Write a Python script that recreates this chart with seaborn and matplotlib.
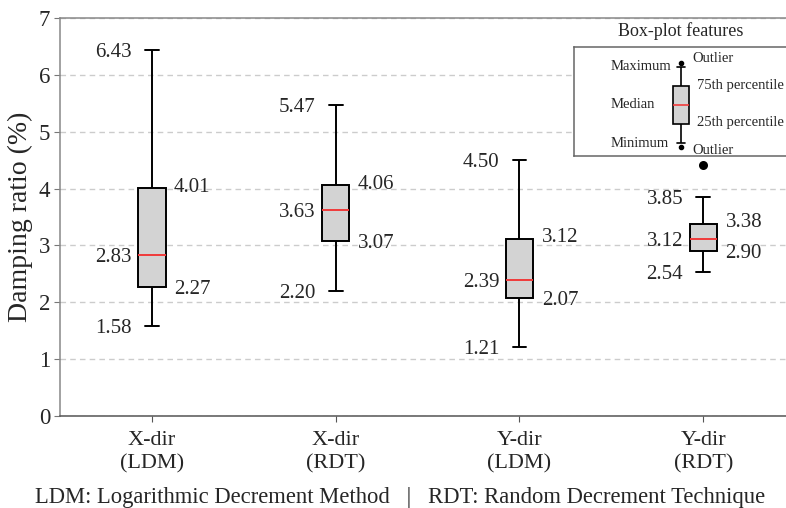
import matplotlib
matplotlib.use("Agg")
import matplotlib.pyplot as plt
import seaborn as sns
import pandas as pd

# Five-number summaries of the damping ratio (%) for each test case
categories = ["X-dir\n(LDM)", "X-dir\n(RDT)", "Y-dir\n(LDM)", "Y-dir\n(RDT)"]
minimum = [1.58, 2.20, 1.21, 2.54]
q1 = [2.27, 3.07, 2.07, 2.90]
median = [2.83, 3.63, 2.39, 3.12]
q3 = [4.01, 4.06, 3.12, 3.38]
maximum = [6.43, 5.47, 4.50, 3.85]

# Outliers beyond the whiskers
outlier_groups = ["Y-dir\n(RDT)"]
outlier_values = [4.42]

y_ticks = [0, 1, 2, 3, 4, 5, 6, 7]

# Schematic values for the key box (key-axes units)
key_stats = [0.119, 0.294, 0.468, 0.642, 0.817]
key_outliers = [0.083, 0.853]

sns.set_style("ticks")
plt.rcParams["font.family"] = ["Liberation Serif", "DejaVu Serif"]

rows = []
for g, a, b, c, d, e in zip(categories, minimum, q1, median, q3, maximum):
    for v in (a, b, c, d, e):
        rows.append({"group": g, "ratio": v})
df = pd.DataFrame(rows)

fig = plt.figure(figsize=(7.86, 5.08), dpi=100)
ax = fig.add_axes([60 / 786, 1 - 416 / 508, 1 - 60 / 786, 398 / 508])

box_kw = dict(
    color="#d3d3d3", saturation=1, linecolor="black", linewidth=1.4,
    medianprops=dict(color="#f03a3a", linewidth=1.4),
)
sns.boxplot(data=df, x="group", y="ratio", order=categories, width=0.15,
            showfliers=False, ax=ax, **box_kw)
sns.stripplot(x=outlier_groups, y=outlier_values, order=categories,
              jitter=False, color="black", size=6.5, ax=ax, zorder=5)

ax.set_xlim(-0.5, 3.45)
ax.set_ylim(0, 7)
ax.set_yticks(y_ticks)
ax.set_xlabel("")
ax.set_ylabel("Damping ratio (%)", fontsize=20, labelpad=4)
ax.tick_params(axis="y", labelsize=16.5, direction="out", length=4, color="#777777", pad=3)
ax.tick_params(axis="x", labelsize=16, direction="out", length=4, color="#555555", pad=7)
for lbl in ax.get_xticklabels():
    lbl.set_linespacing(1.3)
ax.yaxis.grid(True, linestyle=(0, (4, 3)), color="#cccccc", linewidth=1)
ax.set_axisbelow(True)
for side in ("left", "top"):
    ax.spines[side].set_color("#888888")
    ax.spines[side].set_linewidth(1.1)
ax.spines["bottom"].set_color("#555555")
ax.spines["bottom"].set_linewidth(1.1)
ax.spines["right"].set_visible(False)

# Value labels beside each box
for i in range(len(categories)):
    for val in (maximum[i], median[i], minimum[i]):
        ax.annotate(f"{val:.2f}", (i, val), xytext=(-14.5, 0),
                    textcoords="offset points", ha="right",
                    va="center_baseline", fontsize=15)
    ax.annotate(f"{q3[i]:.2f}", (i, q3[i]), xytext=(16, 2.5),
                textcoords="offset points", ha="left",
                va="center_baseline", fontsize=15)
    ax.annotate(f"{q1[i]:.2f}", (i, q1[i]), xytext=(16, 0),
                textcoords="offset points", ha="left",
                va="center_baseline", fontsize=15)

# Key explaining the box-plot features
kax = fig.add_axes([574 / 786, 1 - 156 / 508, 214 / 786, 109 / 508])
sns.boxplot(y=key_stats, width=0.079, whis=(0, 100), ax=kax,
            color="#d3d3d3", saturation=1, linecolor="black", linewidth=1.2,
            medianprops=dict(color="#f03a3a", linewidth=1.2))
kax.plot([0, 0], key_outliers, "o", color="black", markersize=3)
kax.set_xlim(-0.5, 0.5)
kax.set_ylim(0, 1)
kax.set_xticks([])
kax.set_yticks([])
kax.set_ylabel("")
for sp in kax.spines.values():
    sp.set_color("#666666")
    sp.set_linewidth(1.1)
key_fs = 10.5
kax.text(-0.327, 0.817, "Maximum", ha="left", va="center", fontsize=key_fs)
kax.text(-0.327, 0.468, "Median", ha="left", va="center", fontsize=key_fs)
kax.text(-0.327, 0.119, "Minimum", ha="left", va="center", fontsize=key_fs)
kax.text(0.051, 0.899, "Outlier", ha="left", va="center", fontsize=key_fs)
kax.text(0.075, 0.651, "75th percentile", ha="left", va="center", fontsize=key_fs)
kax.text(0.075, 0.303, "25th percentile", ha="left", va="center", fontsize=key_fs)
kax.text(0.051, 0.055, "Outlier", ha="left", va="center", fontsize=key_fs)
fig.text(681 / 786, 1 - 31 / 508, "Box-plot features", ha="center", va="center", fontsize=13)

fig.text(400 / 786, 1 - 497 / 508,
         "LDM: Logarithmic Decrement Method   |   RDT: Random Decrement Technique",
         ha="center", va="center", fontsize=16.3)

fig.savefig("out.png", dpi=100)
